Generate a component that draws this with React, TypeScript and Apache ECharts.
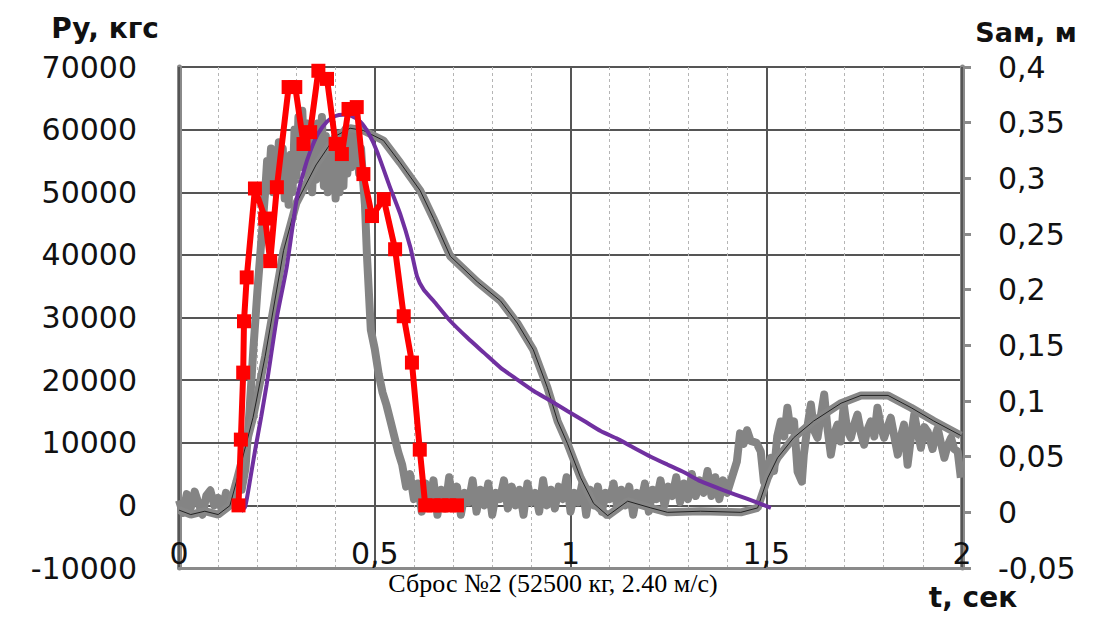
import React, { useEffect, useRef } from "react";
import * as echarts from "echarts";

// ---- Data ----
// Red: Py computed (left axis, кгс), with square markers
const redT = [0.152, 0.158, 0.164, 0.166, 0.173, 0.194, 0.22, 0.233, 0.25, 0.28, 0.297, 0.318, 0.335, 0.356, 0.378, 0.4, 0.416, 0.433, 0.454, 0.471, 0.493, 0.523, 0.552, 0.574, 0.595, 0.615, 0.629, 0.65, 0.67, 0.69, 0.71];
const redPy = [0, 10500, 21200, 29400, 36400, 50600, 45800, 39000, 50800, 66800, 66800, 57700, 59600, 69400, 68100, 57700, 56100, 63300, 63600, 52900, 46200, 48900, 40900, 30200, 22800, 8900, 0, 0, 0, 0, 0];

// Purple: Sам computed (right axis, м)
const purpleT = [0.159, 0.169, 0.182, 0.194, 0.21, 0.224, 0.25, 0.275, 0.301, 0.32, 0.335, 0.355, 0.378, 0.4, 0.42, 0.44, 0.463, 0.485, 0.506, 0.54, 0.565, 0.591, 0.608, 0.625, 0.65, 0.69, 0.736, 0.78, 0.821, 0.865, 0.906, 0.95, 0.992, 1.035, 1.077, 1.12, 1.162, 1.205, 1.247, 1.29, 1.332, 1.39, 1.452, 1.512];
const purpleS = [0.001, 0.005, 0.03, 0.055, 0.086, 0.115, 0.175, 0.22, 0.282, 0.308, 0.324, 0.34, 0.351, 0.356, 0.357, 0.356, 0.351, 0.34, 0.324, 0.291, 0.268, 0.238, 0.212, 0.2, 0.19, 0.173, 0.157, 0.143, 0.13, 0.119, 0.109, 0.1, 0.091, 0.082, 0.073, 0.066, 0.058, 0.05, 0.043, 0.036, 0.028, 0.02, 0.012, 0.004];

// Gray smooth: Sам measured (right axis, м)
const samT = [0, 0.03, 0.066, 0.1, 0.13, 0.147, 0.189, 0.22, 0.267, 0.3, 0.35, 0.4, 0.437, 0.471, 0.522, 0.565, 0.616, 0.65, 0.693, 0.762, 0.821, 0.864, 0.905, 0.941, 0.967, 0.992, 1.026, 1.059, 1.095, 1.146, 1.205, 1.248, 1.332, 1.435, 1.478, 1.504, 1.529, 1.57, 1.621, 1.691, 1.742, 1.811, 1.87, 1.928, 1.997];
const samS = [0.002, -0.002, 0.001, -0.002, 0.006, 0.028, 0.085, 0.14, 0.235, 0.278, 0.312, 0.338, 0.345, 0.343, 0.334, 0.314, 0.289, 0.264, 0.23, 0.207, 0.19, 0.17, 0.146, 0.112, 0.082, 0.062, 0.031, 0.008, -0.003, 0.01, 0.004, 0, 0.001, 0, 0.004, 0.031, 0.049, 0.067, 0.082, 0.098, 0.105, 0.105, 0.094, 0.082, 0.069];

// Gray noisy: Py measured (left axis, кгс)
const pyMeasured: [number, number][] = [
  [0, 800], [0.01, -1200], [0.02, 1800], [0.03, -400], [0.04, 2200], [0.05, 300], [0.06, -1500], [0.07, 1600], [0.08, 2400], [0.09, 0],
  [0.1, 1200], [0.11, -800], [0.12, 2000], [0.13, 600], [0.14, 1800], [0.15, 2600], [0.16, 2500], [0.17, 6000], [0.18, 15000], [0.19, 25000],
  [0.2, 34000], [0.21, 42000], [0.22, 50000], [0.225, 55000], [0.23, 52000], [0.235, 57000], [0.24, 50000], [0.245, 56000], [0.25, 53000], [0.255, 58000],
  [0.26, 51000], [0.265, 57000], [0.27, 49000], [0.275, 54000], [0.28, 48000], [0.285, 56000], [0.29, 50000], [0.295, 60000], [0.3, 52000], [0.305, 62000],
  [0.31, 54000], [0.315, 63000], [0.32, 55000], [0.325, 61000], [0.33, 52000], [0.335, 60000], [0.34, 50000], [0.345, 58000], [0.35, 52000], [0.355, 61000],
  [0.36, 53000], [0.365, 62000], [0.37, 51000], [0.375, 59000], [0.38, 50000], [0.385, 57000], [0.39, 52000], [0.395, 58000], [0.4, 49000], [0.405, 56000],
  [0.41, 50000], [0.415, 58000], [0.42, 51000], [0.425, 60000], [0.43, 53000], [0.435, 59000], [0.44, 54000], [0.445, 60000], [0.45, 55000], [0.455, 58000],
  [0.46, 53000], [0.465, 57000], [0.47, 52000], [0.475, 48000], [0.48, 40000], [0.49, 28000],
  [0.5, 25000], [0.51, 21000], [0.52, 18000], [0.53, 16000], [0.54, 13500], [0.55, 11000], [0.56, 8500], [0.57, 6500], [0.58, 3000], [0.59, 5000],
  [0.6, 1000], [0.61, 3500], [0.62, -1000], [0.63, 3500], [0.64, 500], [0.65, 4000], [0.66, -1500], [0.67, 2500], [0.68, -500], [0.69, 4500],
  [0.7, 0], [0.71, 3000], [0.72, -1500], [0.73, 2000], [0.74, 500], [0.75, 4000], [0.76, -1000], [0.77, 2500], [0.78, 0], [0.79, 3500],
  [0.8, -1500], [0.81, 2000], [0.82, 1000], [0.83, 4000], [0.84, -500], [0.85, 3000], [0.86, 0], [0.87, 2500], [0.88, -1500], [0.89, 3500],
  [0.9, 500], [0.91, 2000], [0.92, -1000], [0.93, 4000], [0.94, 0], [0.95, 2500], [0.96, -500], [0.97, 3000], [0.98, 1000], [0.99, 4500],
  [1.0, -1000], [1.01, 2000], [1.02, 500], [1.03, 3500], [1.04, -1500], [1.05, 2500], [1.06, 0], [1.07, 3000], [1.08, -1000], [1.09, 2000],
  [1.1, 1000], [1.11, 3500], [1.12, -500], [1.13, 2500], [1.14, 0], [1.15, 3000], [1.16, -1500], [1.17, 2000], [1.18, 500], [1.19, 3500],
  [1.2, -1000], [1.21, 2500], [1.22, 1000], [1.23, 4000], [1.24, 0], [1.25, 3000], [1.26, 1500], [1.27, 4500], [1.28, 500], [1.29, 3500],
  [1.3, 1000], [1.31, 5000], [1.32, 1500], [1.33, 4000], [1.34, 2000], [1.35, 5500], [1.36, 1500], [1.37, 4500], [1.38, 1000], [1.39, 4000],
  [1.4, 2000], [1.409, 3800], [1.425, 7000], [1.433, 11500], [1.442, 9800], [1.451, 12000], [1.46, 10300], [1.475, 10000], [1.486, 8600], [1.494, 3800],
  [1.503, 6000], [1.512, 7600], [1.52, 5500], [1.528, 11000], [1.537, 13400], [1.546, 11000], [1.554, 15600], [1.562, 12000], [1.571, 13400], [1.58, 5400],
  [1.591, 3800], [1.596, 8100], [1.605, 12500], [1.614, 16100], [1.622, 12000], [1.631, 10800], [1.64, 14500], [1.648, 17700], [1.657, 12000], [1.665, 8100],
  [1.674, 11500], [1.682, 12900], [1.69, 10200], [1.698, 16100], [1.707, 12000], [1.716, 10800], [1.725, 13000], [1.733, 14500], [1.742, 11500], [1.75, 9700],
  [1.758, 12000], [1.767, 13400], [1.776, 11000], [1.784, 15600], [1.793, 12500], [1.801, 10800], [1.81, 12500], [1.818, 14000], [1.827, 11000], [1.836, 8100],
  [1.844, 11000], [1.852, 12900], [1.861, 6500], [1.87, 11000], [1.878, 14500], [1.887, 11500], [1.895, 9200], [1.904, 12500], [1.912, 11800], [1.925, 9000],
  [1.931, 11000], [1.938, 12300], [1.946, 10000], [1.955, 7600], [1.963, 9500], [1.972, 10800], [1.98, 9000], [1.989, 8600], [1.997, 4400],
];

// Texts
const leftTitle = "Py, кгс";
const rightTitle = "Sам, м";
const xTitle = "t, сек";
const caption = "Сброс №2 (52500 кг, 2.40 м/с)";

const zip = (a: number[], b: number[]) => a.map((v, i) => [v, b[i]]);
const comma = (v: number) => String(Math.round(v * 1000) / 1000).replace(".", ",");

const FONT = "DejaVu Sans";
const TICK_FONT = 30;

export default function App() {
  const ref = useRef<HTMLDivElement>(null);
  useEffect(() => {
    const chart = echarts.init(ref.current!, null, { renderer: "svg" });
    chart.setOption({
      animation: false,
      backgroundColor: "#ffffff",
      grid: { left: 179, right: 134, top: 67, bottom: 50 },
      xAxis: [
        {
          type: "value",
          min: 0,
          max: 2,
          interval: 0.5,
          z: 1,
          axisLine: { show: true, onZero: false, lineStyle: { color: "#8a8a8a", width: 3 } },
          axisTick: { show: false },
          axisLabel: {
            inside: true,
            margin: 0,
            fontSize: TICK_FONT,
            fontFamily: FONT,
            color: "#111",
            formatter: (v: number) => comma(v),
          },
          splitLine: { show: true, lineStyle: { color: "#555", width: 2 } },
        },
        {
          type: "value",
          min: 0,
          max: 2,
          interval: 0.1,
          z: 0,
          axisLine: { show: false },
          axisTick: { show: false },
          axisLabel: { show: false },
          splitLine: { show: true, lineStyle: { color: "#b5b5b5", width: 1, type: [3, 3] } },
        },
      ],
      yAxis: [
        {
          type: "value",
          position: "left",
          min: -10000,
          max: 70000,
          interval: 10000,
          axisLine: { show: true, onZero: false, lineStyle: { color: "#8a8a8a", width: 5 } },
          axisTick: { show: false },
          axisLabel: {
            margin: 42,
            fontSize: TICK_FONT,
            fontFamily: FONT,
            color: "#111",
            formatter: (v: number) => String(v),
          },
          splitLine: { show: true, lineStyle: { color: "#555", width: 2 } },
        },
        {
          type: "value",
          position: "right",
          min: -0.05,
          max: 0.4,
          interval: 0.05,
          axisLine: { show: true, onZero: false, lineStyle: { color: "#8a8a8a", width: 5 } },
          axisTick: { show: true, inside: false, length: 9, lineStyle: { color: "#8a8a8a", width: 3 } },
          axisLabel: {
            margin: 36,
            fontSize: TICK_FONT,
            fontFamily: FONT,
            color: "#111",
            align: "left",
            formatter: (v: number) => comma(v),
          },
          splitLine: { show: false },
        },
      ],
      graphic: [
        { type: "text", x: 105, y: 28, style: { text: leftTitle, font: `bold 28px "${FONT}"`, fill: "#111", align: "center", verticalAlign: "middle" } },
        { type: "text", x: 1026, y: 32, style: { text: rightTitle, font: `bold 27px "${FONT}"`, fill: "#111", align: "center", verticalAlign: "middle" } },
        { type: "text", x: 973, y: 597, style: { text: xTitle, font: `bold 28px "${FONT}"`, fill: "#111", align: "center", verticalAlign: "middle" } },
        { type: "text", x: 553, y: 583, style: { text: caption, font: `26px "Liberation Serif"`, fill: "#000", align: "center", verticalAlign: "middle" } },
      ],
      series: [
        {
          type: "line",
          name: "Py измер.",
          xAxisIndex: 0,
          yAxisIndex: 0,
          data: pyMeasured,
          showSymbol: false,
          z: 2,
          lineStyle: { color: "#848484", width: 8, join: "round" },
        },
        {
          type: "line",
          name: "Sам измер.",
          xAxisIndex: 0,
          yAxisIndex: 1,
          data: zip(samT, samS),
          showSymbol: false,
          z: 3,
          lineStyle: { color: "#878787", width: 8 },
        },
        {
          type: "line",
          name: "Sам измер. (ось)",
          xAxisIndex: 0,
          yAxisIndex: 1,
          data: zip(samT, samS),
          showSymbol: false,
          z: 4,
          lineStyle: { color: "#222", width: 1 },
        },
        {
          type: "line",
          name: "Sам расч.",
          xAxisIndex: 0,
          yAxisIndex: 1,
          data: zip(purpleT, purpleS),
          showSymbol: false,
          smooth: 0.2,
          z: 5,
          lineStyle: { color: "#7030A0", width: 4 },
        },
        {
          type: "line",
          name: "Py расч.",
          xAxisIndex: 0,
          yAxisIndex: 0,
          data: zip(redT, redPy),
          symbol: "rect",
          symbolSize: 14,
          showSymbol: true,
          z: 6,
          itemStyle: { color: "#FF0000" },
          lineStyle: { color: "#FF0000", width: 6 },
        },
      ],
    });
    return () => chart.dispose();
  }, []);
  return (
    <div
      ref={ref}
      style={{ position: "fixed", left: 0, top: 0, width: 1096, height: 618, background: "#fff" }}
    />
  );
}
